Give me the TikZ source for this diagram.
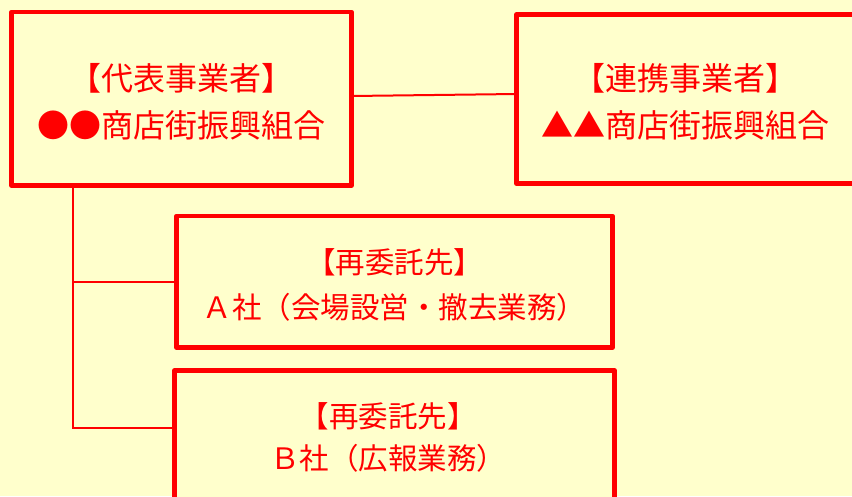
\documentclass[tikz,border=0pt]{standalone}
\usepackage{fontspec}
\newfontfamily\jpfont{Noto Sans CJK JP}
\definecolor{bgyellow}{HTML}{FFFFCC}
\definecolor{myred}{HTML}{FF0000}
\begin{document}
\begin{tikzpicture}[x=1pt,y=-1pt,
  box/.style={draw=myred, fill=bgyellow, line width=4.5pt, line join=round,
    inner sep=0pt, outer sep=0pt},
  label/.style={text=myred, align=center, inner sep=0pt},
  bigtext/.style={font=\jpfont\fontsize{32}{47}\selectfont},
  smalltext/.style={font=\jpfont\fontsize{29.5}{45}\selectfont},
  smallertext/.style={font=\jpfont\fontsize{29.5}{42}\selectfont},
  link/.style={draw=myred, line width=2pt}]
\fill[bgyellow] (0,0) rectangle (852,496);
\useasboundingbox (0,0) rectangle (852,496);
\clip (0,0) rectangle (852,496);
\node[box, minimum width=340pt, minimum height=173.5pt] (rep) at (181.5,98.75) {};
\node[label, bigtext] (reptext) at (181.5,101.75)
  {【代表事業者】\\●●商店街振興組合};
\node[box, minimum width=338.5pt, minimum height=169pt] (partner) at (685.75,99) {};
\node[label, bigtext] (partnertext) at (685.75,101.5)
  {【連携事業者】\\▲▲商店街振興組合};
\node[box, minimum width=436pt, minimum height=131.5pt] (subA) at (394.5,281.75) {};
\node[label, smalltext] (subAtext) at (394.5,284.75)
  {【再委託先】\\Ａ社（会場設営・撤去業務）};
\node[box, minimum width=440pt, minimum height=131.5pt] (subB) at (394.5,436.25) {};
\node[label, smallertext] (subBtext) at (388,437)
  {【再委託先】\\Ｂ社（広報業務）};
\coordinate (trunk) at (72.5,428);
\draw[link] ([yshift=2.75pt]rep.east) -- ([yshift=5pt]partner.west);
\draw[link] (rep.south -| trunk) -- (trunk) -- (trunk -| subB.west);
\draw[link] (trunk |- subA.west) -- (subA.west);
\end{tikzpicture}
\end{document}
